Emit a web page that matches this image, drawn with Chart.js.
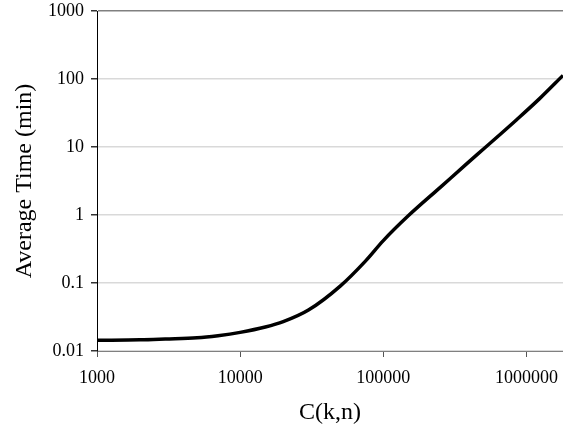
<!DOCTYPE html>
<html lang="en">
<head>
<meta charset="UTF-8">
<title>Average Time vs C(k,n)</title>
<script src="https://cdn.jsdelivr.net/npm/chart.js"></script>
<style>
    html, body { margin: 0; padding: 0; background: #fff; }
    #wrap { width: 563px; height: 432px; }
</style>
</head>
<body>
<div id="wrap"><canvas id="myChart"></canvas></div>
<script>
    // values
    const ckn = [1000, 2000, 3000, 5000, 7000, 10000, 15000, 20000, 30000, 50000, 75000,
        100000, 150000, 250000, 380000, 520000, 850000, 1230000, 1800000];
    const avgTime = [0.0144, 0.0146, 0.015, 0.0156, 0.0168, 0.0188, 0.0225, 0.027, 0.04, 0.09, 0.21,
        0.42, 0.98, 2.55, 5.6, 10, 25, 51, 113];
    const xTicks = [1000, 10000, 100000, 1000000];
    const yTicks = [0.01, 0.1, 1, 10, 100, 1000];

    const serif = '"Liberation Serif", "Times New Roman", serif';

    const ctx = document.getElementById('myChart').getContext('2d');
    new Chart(ctx, {
        type: 'line',
        data: {
            datasets: [{
                label: 'Average Time',
                data: ckn.map((c, i) => ({ x: c, y: avgTime[i] })),
                borderColor: '#000',
                borderWidth: 3.5,
                pointRadius: 0,
                fill: false,
                cubicInterpolationMode: 'monotone'
            }]
        },
        options: {
            responsive: true,
            maintainAspectRatio: false,
            animation: false,
            layout: { padding: { top: 11, right: 0, left: 0, bottom: 0 } },
            plugins: {
                legend: { display: false },
                tooltip: { enabled: false }
            },
            scales: {
                x: {
                    type: 'logarithmic',
                    min: 1000,
                    max: 1800000,
                    afterBuildTicks: scale => { scale.ticks = xTicks.map(v => ({ value: v })); },
                    afterFit: scale => {
                        scale.height = 81;
                        scale.paddingLeft = 0;
                        scale.paddingRight = 0;
                    },
                    grid: {
                        drawOnChartArea: false,
                        tickLength: 6,
                        tickColor: '#555'
                    },
                    border: { color: '#808080', width: 1 },
                    ticks: {
                        color: '#000',
                        padding: 10,
                        maxRotation: 0,
                        font: { family: serif, size: 18 },
                        callback: v => String(v)
                    },
                    title: {
                        display: true,
                        text: 'C(k,n)',
                        color: '#000',
                        font: { family: serif, size: 24 },
                        padding: { top: 0, bottom: 5 }
                    }
                },
                y: {
                    type: 'logarithmic',
                    min: 0.01,
                    max: 1000,
                    afterBuildTicks: scale => { scale.ticks = yTicks.map(v => ({ value: v })); },
                    afterFit: scale => {
                        scale.width = 97;
                        scale.paddingTop = 0;
                        scale.paddingBottom = 0;
                    },
                    grid: {
                        color: c => c.tick && c.tick.value === 1000 ? '#808080' : '#d9d9d9',
                        lineWidth: 1.5,
                        tickLength: 6,
                        tickColor: '#333'
                    },
                    border: { color: '#000', width: 1 },
                    ticks: {
                        color: '#000',
                        padding: 7,
                        font: { family: serif, size: 18 },
                        callback: v => String(v)
                    },
                    title: {
                        display: true,
                        text: 'Average Time (min)',
                        color: '#000',
                        font: { family: serif, size: 24 },
                        padding: { top: 10, bottom: 0 }
                    }
                }
            }
        }
    });
</script>
</body>
</html>
